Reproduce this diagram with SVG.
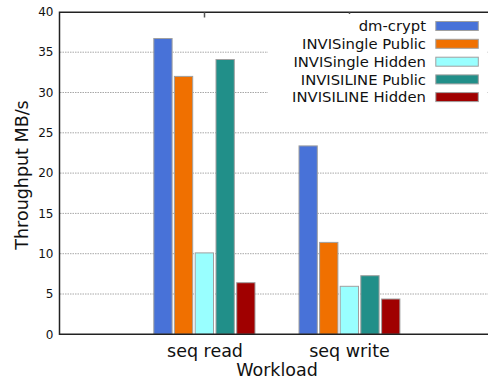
<svg xmlns="http://www.w3.org/2000/svg" width="488" height="379" viewBox="0 0 488 379">
<style>
text{font-family:"DejaVu Sans","Liberation Sans",sans-serif;fill:#111}
.tick{font-size:12px;text-anchor:end}
.xl{font-size:17.5px;text-anchor:middle}
.leg{font-size:14.8px;text-anchor:end}
.grid{stroke:#a8a8a8;stroke-width:1;stroke-dasharray:1.5,1}
.bar{stroke:#a0a0a0;stroke-width:1}
.c1{fill:#4872d8}.c2{fill:#f07000}.c3{fill:#99ffff}.c4{fill:#218f89}.c5{fill:#a00000}
.axis{stroke:#222;stroke-width:1.5;fill:none}
</style>
<rect width="488" height="379" fill="#fff"/>
<g id="grid">
<line class="grid" x1="60" y1="52.2" x2="490" y2="52.2"/>
<line class="grid" x1="60" y1="92.5" x2="490" y2="92.5"/>
<line class="grid" x1="60" y1="132.8" x2="490" y2="132.8"/>
<line class="grid" x1="60" y1="173.1" x2="490" y2="173.1"/>
<line class="grid" x1="60" y1="213.4" x2="490" y2="213.4"/>
<line class="grid" x1="60" y1="253.7" x2="490" y2="253.7"/>
<line class="grid" x1="60" y1="294" x2="490" y2="294"/>
</g>
<g id="ytick-labels">
<text class="tick" x="53.5" y="338.5">0</text>
<text class="tick" x="53.5" y="298.2">5</text>
<text class="tick" x="53.5" y="257.9">10</text>
<text class="tick" x="53.5" y="217.6">15</text>
<text class="tick" x="53.5" y="177.3">20</text>
<text class="tick" x="53.5" y="137">25</text>
<text class="tick" x="53.5" y="96.7">30</text>
<text class="tick" x="53.5" y="56.4">35</text>
<text class="tick" x="53.5" y="16.1">40</text>
</g>
<g id="bars-seq-read">
<rect class="bar c1" x="153.8" y="38.5" width="18.3" height="295.8"/>
<rect class="bar c2" x="174.4" y="76.4" width="18.3" height="257.9"/>
<rect class="bar c3" x="195.2" y="252.9" width="18.3" height="81.4"/>
<rect class="bar c4" x="216" y="59.5" width="18.3" height="274.8"/>
<rect class="bar c5" x="236.7" y="282.7" width="18.3" height="51.6"/>
</g>
<g id="bars-seq-write">
<rect class="bar c1" x="299" y="145.9" width="18.3" height="188.4"/>
<rect class="bar c2" x="319.6" y="242.4" width="18.3" height="91.9"/>
<rect class="bar c3" x="340.2" y="286.3" width="18.3" height="48"/>
<rect class="bar c4" x="360.8" y="275.7" width="18.3" height="58.6"/>
<rect class="bar c5" x="381.6" y="299" width="18.3" height="35.3"/>
</g>
<g id="axes">
<path class="axis" d="M490,12.3 H59.5 V334.3 H490"/>
<line x1="204.5" y1="12.3" x2="204.5" y2="17.5" stroke="#555" stroke-width="1.5"/>
<line x1="349.5" y1="12.3" x2="349.5" y2="17.5" stroke="#555" stroke-width="1.5"/>
</g>
<g id="legend">
<rect x="268" y="14" width="219" height="92" fill="#fff"/>
<text class="leg" x="426" y="31.2">dm-crypt</text>
<rect class="bar c1" x="435.8" y="21.5" width="42.5" height="9"/>
<text class="leg" x="426" y="49">INVISingle Public</text>
<rect class="bar c2" x="435.8" y="39.3" width="42.5" height="9"/>
<text class="leg" x="426" y="66.8">INVISingle Hidden</text>
<rect class="bar c3" x="435.8" y="57.2" width="42.5" height="9"/>
<text class="leg" x="426" y="84.5">INVISILINE Public</text>
<rect class="bar c4" x="435.8" y="74.9" width="42.5" height="9"/>
<text class="leg" x="426" y="102.2">INVISILINE Hidden</text>
<rect class="bar c5" x="435.8" y="92.6" width="42.5" height="9"/>
</g>
<g id="labels">
<text class="xl" x="205" y="356.5">seq read</text>
<text class="xl" x="349.5" y="356.5">seq write</text>
<text class="xl" x="277" y="375.5">Workload</text>
<text class="xl" transform="translate(27.5,175) rotate(-90)">Throughput MB/s</text>
</g>
</svg>
